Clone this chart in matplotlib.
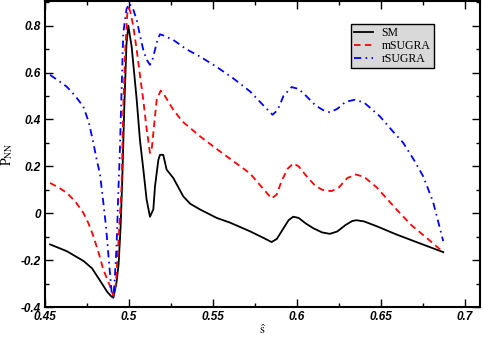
import numpy as np
import matplotlib
matplotlib.use("Agg")
import matplotlib.pyplot as plt
from matplotlib.ticker import MultipleLocator

# values
sm_s = [0.453, 0.463, 0.473, 0.478, 0.483, 0.487, 0.4895, 0.4907, 0.4925, 0.4938,
        0.4950, 0.4960, 0.4972, 0.4985, 0.4996, 0.5016, 0.5046, 0.5065, 0.5085,
        0.5105, 0.5125, 0.5145, 0.5155, 0.5175, 0.5185, 0.5204, 0.5224, 0.5264,
        0.5323, 0.5365, 0.5423, 0.5522, 0.5601, 0.572, 0.580, 0.5849, 0.588,
        0.5915, 0.595, 0.5978, 0.601, 0.6055, 0.610, 0.615, 0.6196, 0.624, 0.629,
        0.633, 0.6355, 0.640, 0.648, 0.659, 0.670, 0.6871]
sm_p = [-0.133, -0.162, -0.204, -0.235, -0.290, -0.335, -0.355, -0.360, -0.30, -0.22,
        -0.06, 0.14, 0.45, 0.72, 0.80, 0.71, 0.484, 0.314, 0.19,
        0.058, -0.015, 0.016, 0.115, 0.228, 0.249, 0.249, 0.186, 0.150,
        0.072, 0.040, 0.016, -0.020, -0.040, -0.077, -0.105, -0.123, -0.11,
        -0.07, -0.03, -0.015, -0.02, -0.045, -0.065, -0.082, -0.088, -0.078, -0.05,
        -0.033, -0.030, -0.035, -0.057, -0.090, -0.120, -0.166]

msugra_s = [0.453, 0.458, 0.463, 0.468, 0.4728, 0.476, 0.4788, 0.482, 0.4847, 0.4887,
            0.4907, 0.4922, 0.4935, 0.4947, 0.4956, 0.4966, 0.4978, 0.4990, 0.4998,
            0.5008, 0.5025, 0.5046, 0.5065, 0.5085, 0.5105, 0.5125, 0.5135, 0.5145,
            0.5165, 0.5189, 0.521, 0.5235, 0.5264, 0.532, 0.5423, 0.552, 0.5621,
            0.572, 0.578, 0.5849, 0.588, 0.591, 0.5945, 0.5978, 0.601, 0.6055,
            0.6105, 0.615, 0.6206, 0.625, 0.630, 0.6351, 0.640, 0.6475, 0.6593,
            0.668, 0.678, 0.6871]
msugra_p = [0.129, 0.110, 0.087, 0.050, 0.002, -0.045, -0.098, -0.170, -0.240, -0.311,
            -0.353, -0.30, -0.15, 0.0, 0.115, 0.45, 0.70, 0.85, 0.875,
            0.86, 0.80, 0.697, 0.59, 0.484, 0.36, 0.257, 0.27, 0.342,
            0.484, 0.523, 0.505, 0.475, 0.441, 0.39, 0.328, 0.275, 0.222,
            0.17, 0.12, 0.063, 0.08, 0.14, 0.19, 0.212, 0.20, 0.16,
            0.12, 0.10, 0.094, 0.11, 0.15, 0.165, 0.155, 0.11, 0.016,
            -0.05, -0.11, -0.166]

rsugra_s = [0.453, 0.458, 0.4629, 0.468, 0.4728, 0.476, 0.4788, 0.481, 0.4827, 0.4845,
            0.4863, 0.488, 0.4897, 0.4907, 0.4917, 0.4927, 0.4937, 0.4945, 0.4955,
            0.4966, 0.4985, 0.5002, 0.5025, 0.5046, 0.5065, 0.5085, 0.5105, 0.5125,
            0.514, 0.5155, 0.5170, 0.5185, 0.5205, 0.5264, 0.534, 0.5423, 0.552,
            0.5621, 0.572, 0.580, 0.5855, 0.5885, 0.592, 0.5968, 0.601, 0.6055,
            0.611, 0.6155, 0.6196, 0.624, 0.629, 0.6345, 0.640, 0.6494, 0.657,
            0.6633, 0.6702, 0.6752, 0.681, 0.6871]
rsugra_p = [0.590, 0.565, 0.540, 0.500, 0.455, 0.390, 0.300, 0.220, 0.170, 0.060,
            -0.055, -0.200, -0.339, -0.360, -0.26, -0.126, 0.10, 0.25, 0.50,
            0.768, 0.87, 0.895, 0.87, 0.824, 0.76, 0.697, 0.655, 0.633,
            0.655, 0.697, 0.74, 0.763, 0.758, 0.739, 0.70, 0.668, 0.625,
            0.575, 0.52, 0.46, 0.420, 0.44, 0.50, 0.538, 0.53, 0.50,
            0.46, 0.44, 0.430, 0.445, 0.475, 0.484, 0.472, 0.413, 0.35,
            0.30, 0.221, 0.157, 0.05, -0.119]

plt.rcParams['mathtext.fontset'] = 'stix'

fig = plt.figure(figsize=(4.83, 3.39), dpi=100)
ax = fig.add_axes([45/483, 32/339, 435/483, 306/339])

ax.plot(sm_s, sm_p, color='black', lw=1.3, label='SM')
ax.plot(msugra_s, msugra_p, color='red', lw=1.3, dashes=(3.6, 2.4), label='mSUGRA')
ax.plot(rsugra_s, rsugra_p, color='blue', lw=1.3, dashes=(4, 2.4, 0.9, 2.4), label='rSUGRA')

ax.set_xlim(0.45, 0.709)
ax.set_ylim(-0.4, 0.905)
ax.xaxis.set_minor_locator(MultipleLocator(0.025))
ax.yaxis.set_minor_locator(MultipleLocator(0.1))
ax.set_xticks([0.45, 0.5, 0.55, 0.6, 0.65, 0.7])
ax.set_xticklabels(['0.45', '0.5', '0.55', '0.6', '0.65', '0.7'])
ax.set_yticks([-0.4, -0.2, 0, 0.2, 0.4, 0.6, 0.8])
ax.set_yticklabels(['-0.4', '-0.2', '0', '0.2', '0.4', '0.6', '0.8'])

ax.tick_params(which='both', direction='in', top=True, right=True, width=1)
ax.tick_params(which='major', length=6, pad=3)
ax.tick_params(which='minor', length=3)
for lab in ax.get_xticklabels() + ax.get_yticklabels():
    lab.set_family('Liberation Sans')
    lab.set_weight('bold')
    lab.set_style('italic')
    lab.set_fontsize(8.5)
for sp in ax.spines.values():
    sp.set_linewidth(1.5)

ax.set_ylabel(r'$\mathrm{P}_{\mathrm{NN}}$', fontsize=10, labelpad=4)
ax.set_xlabel(r'$\hat{\mathrm{s}}$', fontsize=9, labelpad=0)

leg = ax.legend(loc='upper left', bbox_to_anchor=(0.703, 0.925), frameon=True,
                fancybox=False, edgecolor='black', facecolor='#d9d9d9', framealpha=1,
                prop={'family': 'Liberation Serif', 'size': 8.5},
                handlelength=1.6, handletextpad=0.7, labelspacing=0.05,
                borderpad=0.3, borderaxespad=0)
leg.get_frame().set_linewidth(1)

fig.savefig('out.png', dpi=100)
